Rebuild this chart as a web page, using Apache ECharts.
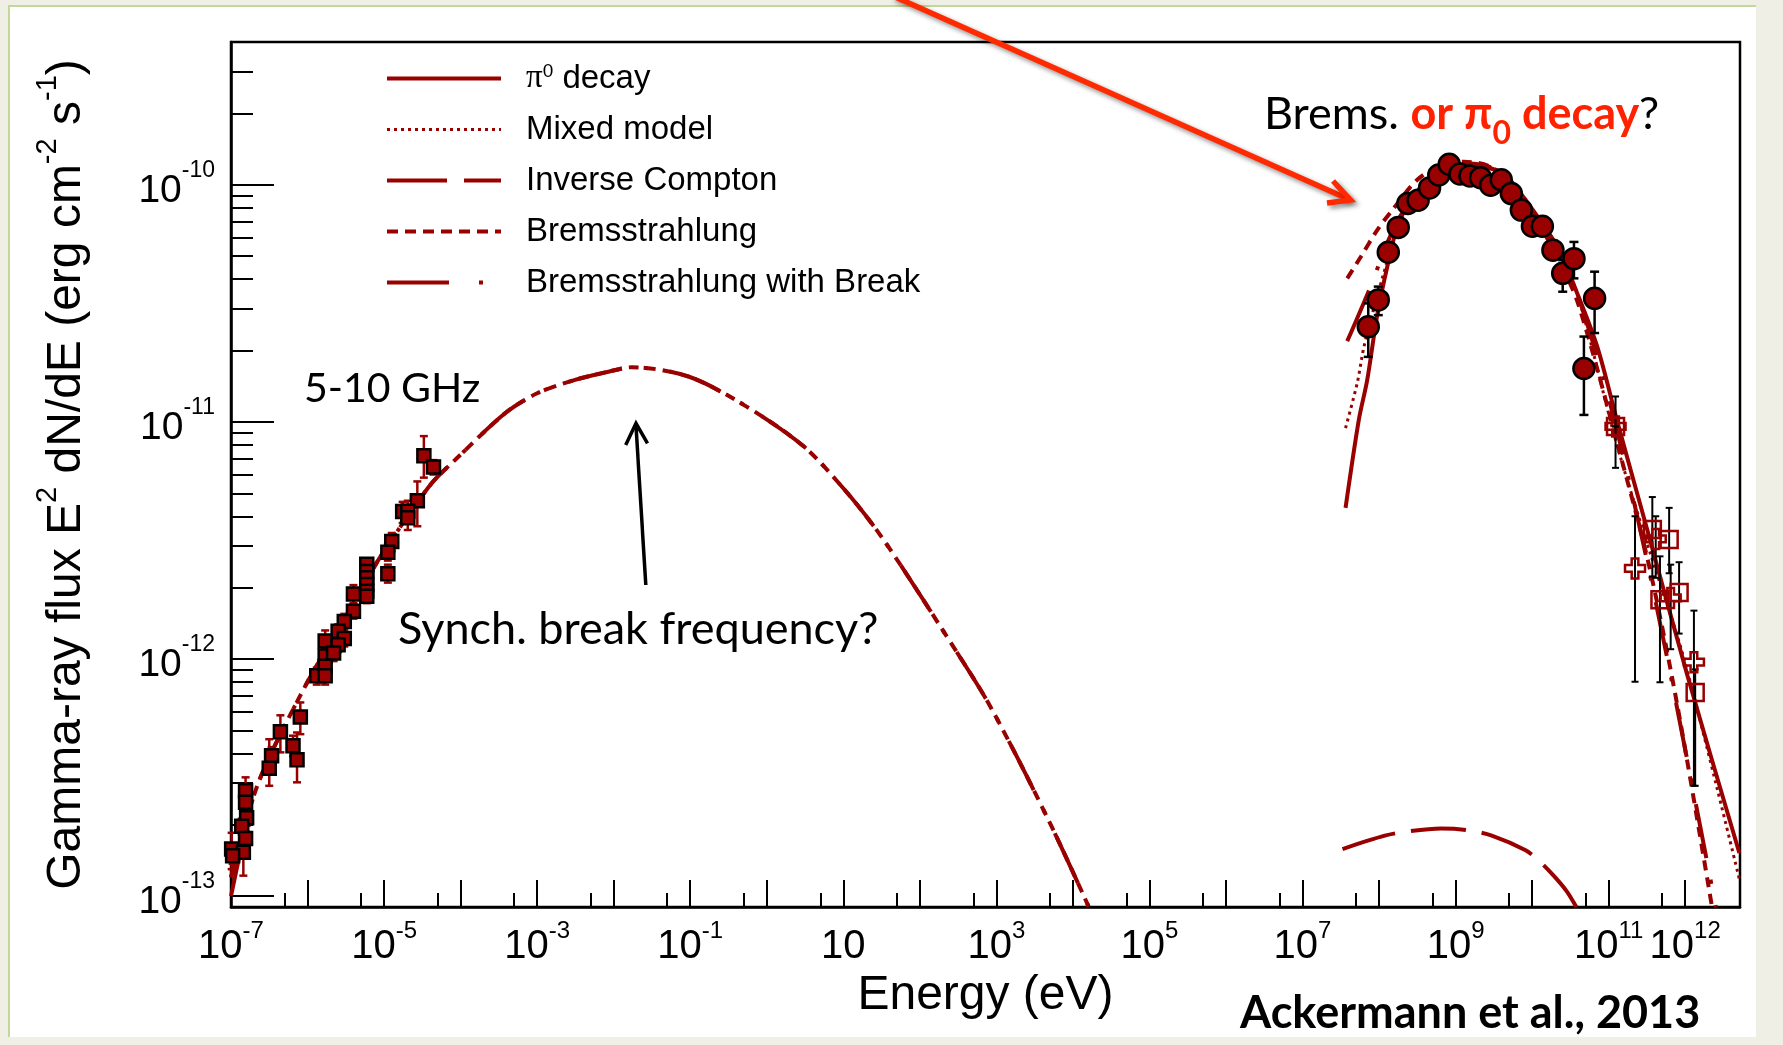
<!DOCTYPE html>
<html>
<head>
<meta charset="utf-8">
<script src="https://cdn.jsdelivr.net/npm/echarts@6/dist/echarts.min.js"></script>
<style>
html,body{margin:0;padding:0;background:#efefe6;}
#chart{width:1783px;height:1045px;}
</style>
</head>
<body>
<div id="chart"></div>
<script>
// ---------------- DATA (energy in eV, flux in erg cm^-2 s^-1) ----------------
// Radio points: energy, flux, lower, upper
const radioE  = [3.31e-5,4.42e-5,2.72e-5,1.75e-5,2.04e-5,2.04e-5,1.26e-5,1.12e-5,1.12e-5,5.94e-6,5.94e-6,5.94e-6,5.94e-6,5.94e-6,5.94e-6,3.98e-6,3.98e-6,3.02e-6,2.51e-6,3.02e-6,1.70e-6,2.51e-6,1.70e-6,2.19e-6,1.70e-6,1.32e-6,1.70e-6,8.05e-7,4.42e-7,6.46e-7,7.29e-7,3.39e-7,3.16e-7,1.55e-7,1.55e-7,1.60e-7,1.38e-7,1.55e-7,1.02e-7,1.45e-7,1.05e-7];
const radioF  = [7.19e-12,6.46e-12,4.65e-12,4.19e-12,4.20e-12,3.94e-12,3.13e-12,2.82e-12,2.29e-12,2.51e-12,2.34e-12,2.20e-12,2.06e-12,1.93e-12,1.84e-12,1.88e-12,1.59e-12,1.44e-12,1.31e-12,1.22e-12,1.19e-12,1.15e-12,1.03e-12,1.06e-12,9.33e-13,8.51e-13,8.51e-13,5.70e-13,4.93e-13,4.31e-13,3.76e-13,3.91e-13,3.46e-13,2.78e-13,2.49e-13,2.14e-13,1.97e-13,1.75e-13,1.58e-13,1.53e-13,1.48e-13];
const radioLo = [5.82e-12,6.0e-12,3.63e-12,3.75e-12,3.8e-12,3.5e-12,2.85e-12,2.6e-12,2.1e-12,2.35e-12,2.2e-12,2.08e-12,1.95e-12,1.83e-12,1.72e-12,1.72e-12,1.48e-12,1.33e-12,1.22e-12,1.13e-12,1.07e-12,1.07e-12,0.95e-12,0.98e-12,8.6e-13,7.8e-13,7.8e-13,4.82e-13,4.04e-13,3.9e-13,3.02e-13,3.6e-13,2.92e-13,2.5e-13,2.3e-13,1.98e-13,1.82e-13,1.62e-13,1.3e-13,1.22e-13,1.37e-13];
const radioHi = [8.71e-12,6.9e-12,5.61e-12,4.6e-12,4.65e-12,4.35e-12,3.4e-12,3.05e-12,2.5e-12,2.62e-12,2.46e-12,2.32e-12,2.17e-12,2.04e-12,1.95e-12,2.05e-12,1.7e-12,1.55e-12,1.4e-12,1.3e-12,1.32e-12,1.23e-12,1.11e-12,1.14e-12,1.0e-12,9.2e-13,9.2e-13,6.56e-13,5.79e-13,4.75e-13,4.90e-13,4.25e-13,4.59e-13,3.17e-13,2.7e-13,2.3e-13,2.12e-13,1.88e-13,1.85e-13,1.8e-13,1.6e-13];

// Fermi-LAT points
const latE  = [7.23e7,9.77e7,1.32e8,1.78e8,2.38e8,3.24e8,4.57e8,6.03e8,8.26e8,1.14e9,1.54e9,2.12e9,2.87e9,3.95e9,5.35e9,7.23e9,1.01e10,1.36e10,1.87e10,2.51e10,3.52e10,4.75e10,6.55e10];
const latF  = [2.52e-11,3.27e-11,5.19e-11,6.61e-11,8.34e-11,8.61e-11,9.70e-11,1.10e-10,1.22e-10,1.11e-10,1.09e-10,1.07e-10,9.95e-11,1.05e-10,9.18e-11,7.82e-11,6.68e-11,6.68e-11,5.30e-11,4.23e-11,4.88e-11,1.68e-11,3.32e-11];
const latLo = [1.88e-11,2.82e-11,4.9e-11,6.3e-11,8.0e-11,8.3e-11,9.4e-11,1.07e-10,1.19e-10,1.08e-10,1.06e-10,1.04e-10,9.6e-11,1.01e-10,8.8e-11,7.4e-11,6.3e-11,6.2e-11,4.9e-11,3.54e-11,4.03e-11,1.07e-11,2.37e-11];
const latHi = [3.16e-11,3.72e-11,5.5e-11,6.9e-11,8.7e-11,8.9e-11,1.0e-10,1.13e-10,1.25e-10,1.14e-10,1.12e-10,1.10e-10,1.03e-10,1.09e-10,9.6e-11,8.2e-11,7.1e-11,7.2e-11,5.8e-11,4.81e-11,5.74e-11,2.29e-11,4.30e-11];

// TeV points: open squares
const tevSqE  = [1.23e11,3.72e11,6.17e11,4.68e11,8.32e11,1.35e12];
const tevSqF  = [9.57e-12,3.52e-12,3.19e-12,1.78e-12,1.91e-12,7.23e-13];
const tevSqLo = [6.40e-12,2.23e-12,2.3e-12,7.98e-13,1.28e-12,2.92e-13];
const tevSqHi = [1.28e-11,4.82e-12,4.34e-12,2.71e-12,2.56e-12,9.04e-13];
// TeV points: open crosses
const tevCrE  = [1.23e11,2.21e11,4.12e11,6.46e11,1.30e12];
const tevCrF  = [9.57e-12,2.41e-12,3.21e-12,1.81e-12,9.70e-13];
const tevCrLo = [9.57e-12,8.02e-13,2.2e-12,1.1e-12,2.92e-13];
const tevCrHi = [9.57e-12,4.00e-12,4.0e-12,2.5e-12,1.60e-12];

// Model curves
const synchE = [1.0e-7,2.29e-7,9.33e-7,2.51e-6,8.02e-6,1.55e-5,4.21e-5,8.51e-5,3.84e-4,1.0e-3,3.05e-3,7.94e-3,1.72e-2,9.68e-2,0.545,3.06,10,25.1,55.2,200,701,1585,3162,6310,1.60e4];
const synchF = [1.20e-13,3.02e-13,7.69e-13,1.33e-12,2.55e-12,3.52e-12,5.52e-12,6.92e-12,1.09e-11,1.32e-11,1.50e-11,1.62e-11,1.70e-11,1.55e-11,1.16e-11,7.87e-12,5.25e-12,3.63e-12,2.51e-12,1.32e-12,6.95e-13,4.27e-13,2.75e-13,1.74e-13,9.06e-14];

const pi0RadioE = [1.0e-7,1.41e-7];
const pi0RadioF = [1.0e-13,1.70e-13];
const pi0E = [3.65e7,5.44e7,7.00e7,9.46e7,1.28e8,1.73e8,2.58e8,4.27e8,7.78e8,1.42e9,2.59e9,4.29e9,9.55e9,2.14e10,3.89e10,7.11e10,1.30e11,3.16e11,1.07e12,5.1e12];
const pi0F = [4.34e-12,1.02e-11,1.50e-11,2.82e-11,4.51e-11,6.64e-11,8.61e-11,1.04e-10,1.19e-10,1.21e-10,1.18e-10,1.11e-10,8.07e-11,5.47e-11,3.48e-11,2.07e-11,1.00e-11,3.55e-12,8.51e-13,1.52e-13];

const mixedE = [3.65e7,5.19e7,6.34e7,8.91e7,1.26e8,1.78e8,3.16e8,7.94e8,2.00e9,4.47e9,1.0e10,2.24e10,3.98e10,1.30e11,3.55e11,9.66e11,5.1e12];
const mixedF = [9.42e-12,1.46e-11,2.07e-11,3.16e-11,4.68e-11,6.76e-11,9.12e-11,1.20e-10,1.22e-10,1.10e-10,7.94e-11,5.25e-11,3.39e-11,7.87e-12,2.75e-12,1.0e-12,1.18e-13];

const icE = [3.33e7,1.19e8,2.51e8,6.46e8,1.41e9,2.97e9,8.22e9,1.26e10,1.91e10,2.82e10,3.78e10];
const icF = [1.58e-13,1.80e-13,1.88e-13,1.93e-13,1.90e-13,1.80e-13,1.56e-13,1.40e-13,1.22e-13,1.05e-13,9.0e-14];

const bremsE = [3.84e7,5.78e7,9.46e7,1.49e8,3.16e8,6.31e8,1.29e9,2.87e9,5.25e9,1.0e10,2.0e10,3.98e10,1.44e11,3.39e11,7.94e11,2.24e12];
const bremsF = [4.03e-11,4.97e-11,6.44e-11,7.82e-11,1.05e-10,1.20e-10,1.25e-10,1.19e-10,9.79e-11,7.59e-11,5.13e-11,3.16e-11,7.14e-12,2.46e-12,6.31e-13,9.0e-14];

const bremsBrkE = [3.84e7,7.74e7,1.26e8,2.0e8,3.98e8,7.94e8,1.58e9,3.16e9,6.31e9,1.26e10,2.24e10,3.89e10,1.0e11,2.37e11,5.85e11,2.51e12];
const bremsBrkF = [2.19e-11,3.72e-11,5.62e-11,7.59e-11,1.0e-10,1.17e-10,1.23e-10,1.16e-10,9.33e-11,6.92e-11,5.01e-11,3.47e-11,1.26e-11,3.98e-12,1.0e-12,9.0e-14];

// Axis ticks / labels
const xLabelValues = [1e-7,1e-5,1e-3,1e-1,1e1,1e3,1e5,1e7,1e9,1e11,1e12];
const xMajorTicks = [1e-6,1e-5,1e-4,1e-3,1e-2,1e-1,1e0,1e1,1e2,1e3,1e4,1e5,1e6,1e7,1e8,1e9,1e10,1e11,1e12];
const xMinorTicks = [5e-7,5e-6,5e-5,5e-4,5e-3,5e-2,5e-1,5e0,5e1,5e2,5e3,5e4,5e5,5e6,5e7,5e8,5e9,5e10,5e11];
const yLabelValues = [1e-13,1e-12,1e-11,1e-10];
const yMinorTicks = [2e-13,3e-13,4e-13,5e-13,6e-13,7e-13,8e-13,9e-13,2e-12,3e-12,4e-12,5e-12,6e-12,7e-12,8e-12,9e-12,2e-11,3e-11,4e-11,5e-11,6e-11,7e-11,8e-11,9e-11,2e-10,3e-10];
const xMin = 1e-7, xMax = 5.2e12, yMin = 9.0e-14, yMax = 4.0e-10;

// ---------------- CHART ----------------
const RED = '#990000';
const ROOTFONT = '"Liberation Sans", Arial, sans-serif';
const SLIDEFONT = 'Lato, "Noto Sans", sans-serif';
const zip = (a, b) => a.map((v, i) => [v, b[i]]);
const zip3 = (a, b, c) => a.map((v, i) => [v, b[i], c[i]]);

function powLabel(v) {
  const e = Math.round(Math.log10(v));
  if (e === 1) return '{b|10}';
  return '{b|10}{s|' + e + '}';
}

function errRender(color, cap, lw) {
  return function (params, api) {
    const x = api.value(0);
    const p1 = api.coord([x, api.value(1)]);
    const p2 = api.coord([x, api.value(2)]);
    const st = { stroke: color, lineWidth: lw };
    return {
      type: 'group',
      children: [
        { type: 'line', shape: { x1: p1[0], y1: p1[1], x2: p2[0], y2: p2[1] }, style: st },
        { type: 'line', shape: { x1: p1[0] - cap, y1: p1[1], x2: p1[0] + cap, y2: p1[1] }, style: st },
        { type: 'line', shape: { x1: p2[0] - cap, y1: p2[1], x2: p2[0] + cap, y2: p2[1] }, style: st }
      ]
    };
  };
}

function lineSeries(name, data, type, width) {
  return {
    name: name, type: 'line', data: data, smooth: 0.3, symbol: 'none',
    xAxisIndex: 0, yAxisIndex: 0, z: 2, silent: true,
    lineStyle: { color: RED, width: width, type: type, cap: 'butt' },
    itemStyle: { color: RED }
  };
}

const dashIC = [55, 16];
const dashBrems = [10, 7];
const dashBrk = [55, 22, 4, 22];
const dashMixed = [3, 4];

const chart = echarts.init(document.getElementById('chart'), null, { renderer: 'canvas' });

const option = {
  backgroundColor: '#ffffff',
  animation: false,
  grid: {
    left: 231, right: 43, top: 42, bottom: 138,
    show: true, borderColor: '#000', borderWidth: 2.5, backgroundColor: 'transparent',
    outerBoundsMode: 'none'
  },
  legend: {
    left: 380, top: 57, orient: 'vertical', itemWidth: 114, itemHeight: 14, itemGap: 18,
    selectedMode: false,
    itemStyle: { color: 'rgba(0,0,0,0)', borderWidth: 0, opacity: 0 },
    data: [
      { name: 'π0 decay', lineStyle: { width: 4, type: 'solid', color: RED } },
      { name: 'Mixed model', lineStyle: { width: 3, type: [3, 4], color: RED } },
      { name: 'Inverse Compton', lineStyle: { width: 4, type: [60, 17], color: RED } },
      { name: 'Bremsstrahlung', lineStyle: { width: 4, type: [11, 7], color: RED } },
      { name: 'Bremsstrahlung with Break', lineStyle: { width: 4, type: [62, 30, 4, 30], color: RED } }
    ],
    formatter: function (n) {
      if (n === 'π0 decay') return '{p|π}{s|0}{t| decay}';
      return '{t|' + n + '}';
    },
    textStyle: {
      color: '#000', fontFamily: ROOTFONT, fontSize: 33, padding: [0, 0, 0, 20],
      rich: {
        t: { fontSize: 33, fontFamily: ROOTFONT, color: '#000' },
        p: { fontSize: 33, fontFamily: '"Liberation Serif", serif', color: '#000' },
        s: { fontSize: 19, fontFamily: ROOTFONT, color: '#000', verticalAlign: 'top' }
      }
    }
  },
  xAxis: [
    {
      type: 'log', logBase: 10, min: xMin, max: xMax, gridIndex: 0, position: 'bottom',
      name: 'Energy (eV)', nameLocation: 'middle', nameGap: 63,
      nameTextStyle: { fontFamily: ROOTFONT, fontSize: 48, color: '#000' },
      axisLine: { show: true, lineStyle: { color: '#000', width: 2.5 } },
      axisTick: { show: true, inside: true, length: 27, customValues: xMajorTicks, lineStyle: { color: '#000', width: 2 } },
      axisLabel: {
        show: true, customValues: xLabelValues, margin: 12, formatter: powLabel,
        rich: {
          b: { fontFamily: ROOTFONT, fontSize: 40, color: '#000', padding: [8, 0, 0, 0] },
          s: { fontFamily: ROOTFONT, fontSize: 24, color: '#000', verticalAlign: 'top' }
        }
      },
      splitLine: { show: false }, minorTick: { show: false }
    },
    {
      type: 'log', logBase: 10, min: xMin, max: xMax, gridIndex: 0, position: 'bottom',
      axisLine: { show: false },
      axisTick: { show: true, inside: true, length: 14, customValues: xMinorTicks, lineStyle: { color: '#000', width: 2 } },
      axisLabel: { show: false }, splitLine: { show: false }
    }
  ],
  yAxis: [
    {
      type: 'log', logBase: 10, min: yMin, max: yMax, gridIndex: 0, position: 'left',
      name: '{t|Gamma-ray flux E}{s|2}{t| dN/dE (erg cm}{s|-2}{t| s}{s|-1}{t|)}',
      nameLocation: 'middle', nameGap: 140, nameRotate: 90,
      nameTextStyle: {
        rich: {
          t: { fontFamily: ROOTFONT, fontSize: 48, color: '#000', padding: [10, 0, 0, 0] },
          s: { fontFamily: ROOTFONT, fontSize: 29, color: '#000', verticalAlign: 'top' }
        }
      },
      axisLine: { show: true, lineStyle: { color: '#000', width: 2.5 } },
      axisTick: { show: true, inside: true, length: 43, customValues: yLabelValues, lineStyle: { color: '#000', width: 2 } },
      axisLabel: {
        show: true, customValues: yLabelValues, margin: 16, formatter: powLabel,
        rich: {
          b: { fontFamily: ROOTFONT, fontSize: 39, color: '#000', padding: [13, 0, 0, 0] },
          s: { fontFamily: ROOTFONT, fontSize: 23, color: '#000', verticalAlign: 'top' }
        }
      },
      splitLine: { show: false }, minorTick: { show: false }
    },
    {
      type: 'log', logBase: 10, min: yMin, max: yMax, gridIndex: 0, position: 'left',
      axisLine: { show: false },
      axisTick: { show: true, inside: true, length: 22, customValues: yMinorTicks, lineStyle: { color: '#000', width: 2 } },
      axisLabel: { show: false }, splitLine: { show: false }
    }
  ],
  series: [
    lineSeries('π0 decay', zip(pi0E, pi0F), 'solid', 4),
    lineSeries('π0 decay', zip(pi0RadioE, pi0RadioF), 'solid', 4),
    lineSeries('Mixed model', zip(mixedE, mixedF), dashMixed, 3),
    lineSeries('Inverse Compton', zip(icE, icF), dashIC, 4),
    lineSeries('Bremsstrahlung', zip(bremsE, bremsF), dashBrems, 4),
    lineSeries('Bremsstrahlung', zip(synchE, synchF), dashBrems, 4),
    lineSeries('Bremsstrahlung with Break', zip(bremsBrkE, bremsBrkF), dashBrk, 4),
    lineSeries('Bremsstrahlung with Break', zip(synchE, synchF), dashBrk, 4),
    {
      type: 'custom', name: 'radioErr', data: zip3(radioE, radioLo, radioHi), z: 3, silent: true,
      encode: { x: 0, y: [1, 2] }, renderItem: errRender(RED, 4, 2.5)
    },
    {
      type: 'custom', name: 'latErr', data: zip3(latE, latLo, latHi), z: 3, silent: true,
      encode: { x: 0, y: [1, 2] }, renderItem: errRender('#000', 4.5, 2.5)
    },
    {
      type: 'custom', name: 'tevSqErr', data: zip3(tevSqE, tevSqLo, tevSqHi), z: 3, silent: true,
      encode: { x: 0, y: [1, 2] }, renderItem: errRender('#000', 3.5, 2)
    },
    {
      type: 'custom', name: 'tevCrErr', data: zip3(tevCrE, tevCrLo, tevCrHi), z: 3, silent: true,
      encode: { x: 0, y: [1, 2] }, renderItem: errRender('#000', 3.5, 2)
    },
    {
      type: 'scatter', name: 'radio', data: zip(radioE, radioF), z: 5, silent: true,
      symbol: 'rect', symbolSize: 13,
      itemStyle: { color: RED, borderColor: '#000', borderWidth: 2.5, opacity: 1 }
    },
    {
      type: 'scatter', name: 'lat', data: zip(latE, latF), z: 5, silent: true,
      symbol: 'circle', symbolSize: 21,
      itemStyle: { color: RED, borderColor: '#000', borderWidth: 2.5, opacity: 1 }
    },
    {
      type: 'scatter', name: 'tevSq', data: zip(tevSqE, tevSqF), z: 5, silent: true,
      symbol: 'rect', symbolSize: 17,
      itemStyle: { color: 'rgba(255,255,255,0)', borderColor: RED, borderWidth: 2.5, opacity: 1 }
    },
    {
      type: 'scatter', name: 'tevCr', data: zip(tevCrE, tevCrF), z: 5, silent: true,
      symbol: 'path://M3,0H6V3H9V6H6V9H3V6H0V3H3Z', symbolSize: 20,
      itemStyle: { color: 'rgba(255,255,255,0)', borderColor: RED, borderWidth: 2.5, opacity: 1 }
    }
  ],
  graphic: {
    elements: [
      // slide border
      { type: 'rect', shape: { x: 0, y: 0, width: 8, height: 1045 }, style: { fill: '#efefe6' }, z: 0, silent: true },
      { type: 'rect', shape: { x: 0, y: 0, width: 1783, height: 5 }, style: { fill: '#efefe6' }, z: 0, silent: true },
      { type: 'rect', shape: { x: 1756, y: 0, width: 27, height: 1045 }, style: { fill: '#efefe6' }, z: 0, silent: true },
      { type: 'rect', shape: { x: 0, y: 1037, width: 1783, height: 8 }, style: { fill: '#efefe6' }, z: 0, silent: true },
      { type: 'rect', shape: { x: 8, y: 5, width: 2, height: 1032 }, style: { fill: '#c2d79a' }, z: 0, silent: true },
      { type: 'rect', shape: { x: 8, y: 5, width: 1748, height: 2 }, style: { fill: '#c2d79a' }, z: 0, silent: true },
      // annotations
      { type: 'text', x: 304, y: 389, z: 50, silent: true,
        style: { text: '5-10 GHz', font: '41px ' + SLIDEFONT, fill: '#000', align: 'left', verticalAlign: 'middle' } },
      { type: 'text', x: 398, y: 629, z: 50, silent: true,
        style: { text: 'Synch. break frequency?', font: '45px ' + SLIDEFONT, fill: '#000', align: 'left', verticalAlign: 'middle' } },
      { type: 'text', x: 1240, y: 1013, z: 50, silent: true,
        style: { text: 'Ackermann et al., 2013', font: 'bold 45px ' + SLIDEFONT, fill: '#000', align: 'left', verticalAlign: 'middle' } },
      { type: 'text', x: 1264, y: 121, z: 50, silent: true,
        style: {
          text: '{a|Brems. }{r|or π}{u|0}{r| decay}{a|?}', align: 'left', verticalAlign: 'middle',
          rich: {
            a: { fontFamily: SLIDEFONT, fontSize: 45, fill: '#000', padding: [0, 0, 13, 0] },
            r: { fontFamily: SLIDEFONT, fontSize: 45, fontWeight: 'bold', fill: '#ff2200', padding: [0, 0, 13, 0] },
            u: { fontFamily: SLIDEFONT, fontSize: 32, fontWeight: 'bold', fill: '#ff2200', verticalAlign: 'bottom' }
          }
        } },
      // black arrow
      { type: 'line', z: 50, silent: true, shape: { x1: 645.8, y1: 585, x2: 636, y2: 426 },
        style: { stroke: '#000', lineWidth: 3.5 } },
      { type: 'polyline', z: 50, silent: true, shape: { points: [[625.7, 445], [636, 423.3], [647.5, 443.3]] },
        style: { stroke: '#000', lineWidth: 3.5, fill: null, lineJoin: 'miter' } },
      // red arrow
      { type: 'line', z: 60, silent: true, shape: { x1: 893, y1: -4, x2: 1348, y2: 199 },
        style: { stroke: '#ff2a00', lineWidth: 5.5, shadowBlur: 5, shadowColor: 'rgba(0,0,0,0.45)', shadowOffsetX: 3, shadowOffsetY: 3 } },
      { type: 'polyline', z: 60, silent: true, shape: { points: [[1333, 181], [1350.5, 200], [1327, 203]] },
        style: { stroke: '#ff2a00', lineWidth: 5.5, fill: null, lineJoin: 'miter', shadowBlur: 5, shadowColor: 'rgba(0,0,0,0.45)', shadowOffsetX: 3, shadowOffsetY: 3 } }
    ]
  }
};

chart.setOption(option);
</script>
</body>
</html>
